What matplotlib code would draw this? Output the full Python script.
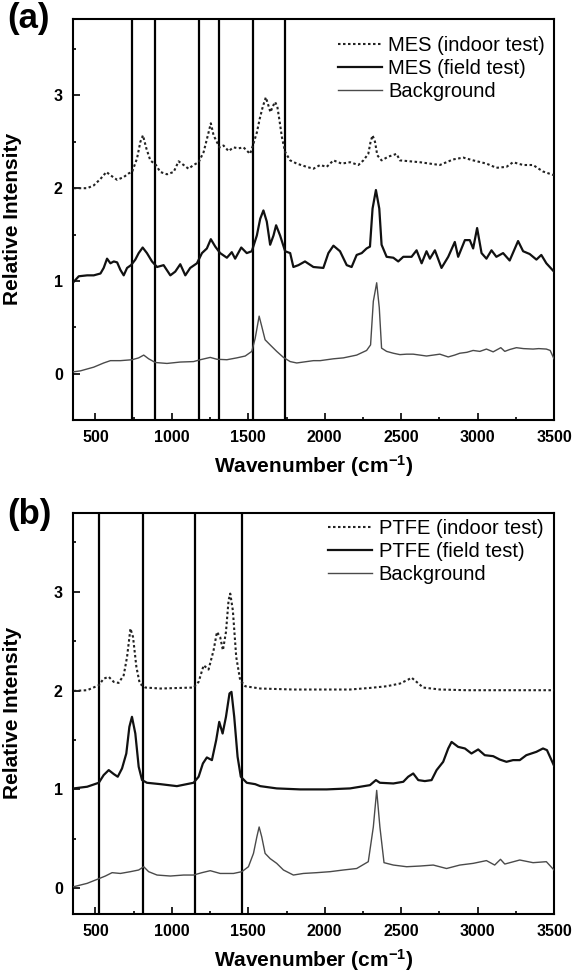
import matplotlib
matplotlib.use("Agg")
import matplotlib.pyplot as plt
from matplotlib.ticker import MultipleLocator

plt.rcParams['font.family'] = ['Liberation Sans', 'DejaVu Sans']
plt.rcParams['mathtext.fontset'] = 'custom'
plt.rcParams['mathtext.rm'] = 'Liberation Sans:bold'
plt.rcParams['mathtext.bf'] = 'Liberation Sans:bold'
plt.rcParams['mathtext.it'] = 'Liberation Sans:bold'
plt.rcParams['mathtext.default'] = 'bf'

# ---------------- panel (a) data ----------------
a_bg_x = [358, 402, 489, 554, 598, 663, 740, 783, 816, 848, 892, 968, 1055, 1142, 1186, 1251,
          1295, 1360, 1425, 1480, 1523, 1545, 1571, 1588, 1610, 1643, 1686, 1730, 1774, 1817,
          1882, 1926, 1970, 2013, 2057, 2122, 2209, 2274, 2300, 2318, 2340, 2357, 2372, 2405,
          2449, 2492, 2536, 2579, 2623, 2666, 2710, 2753, 2808, 2850, 2884, 2930, 2971, 3015,
          3058, 3102, 3152, 3178, 3210, 3254, 3300, 3363, 3400, 3450, 3475, 3500]
a_bg_y = [0.02, 0.03, 0.07, 0.115, 0.14, 0.14, 0.15, 0.17, 0.20, 0.16, 0.12, 0.11, 0.125, 0.13, 0.15, 0.175,
          0.155, 0.15, 0.17, 0.19, 0.24, 0.38, 0.62, 0.51, 0.365, 0.31, 0.24, 0.175, 0.13, 0.115,
          0.13, 0.14, 0.14, 0.15, 0.16, 0.17, 0.20, 0.25, 0.31, 0.78, 0.98, 0.71, 0.275, 0.24,
          0.22, 0.205, 0.21, 0.21, 0.20, 0.19, 0.20, 0.21, 0.18, 0.20, 0.22, 0.23, 0.25, 0.24,
          0.265, 0.235, 0.28, 0.24, 0.26, 0.28, 0.27, 0.265, 0.27, 0.265, 0.25, 0.16]

a_field_x = [358, 391, 446, 489, 533, 554, 576, 598, 620, 642, 663, 685, 707, 733, 761, 783, 809,
             837, 870, 903, 946, 990, 1022, 1055, 1088, 1120, 1164, 1197, 1229, 1255, 1284, 1316,
             1360, 1392, 1414, 1454, 1490, 1523, 1556, 1578, 1599, 1621, 1643, 1665, 1682, 1708,
             1741, 1774, 1795, 1828, 1871, 1926, 1991, 2024, 2057, 2100, 2144, 2176, 2209, 2242,
             2274, 2296, 2313, 2335, 2357, 2372, 2405, 2449, 2481, 2514, 2568, 2601, 2634, 2666,
             2688, 2721, 2764, 2808, 2851, 2873, 2917, 2949, 2971, 2997, 3026, 3058, 3091, 3123,
             3167, 3210, 3265, 3298, 3341, 3385, 3417, 3450, 3500]
a_field_y = [0.99, 1.05, 1.06, 1.06, 1.08, 1.14, 1.24, 1.19, 1.21, 1.20, 1.12, 1.06, 1.14, 1.17, 1.23, 1.30, 1.36,
             1.30, 1.21, 1.15, 1.17, 1.06, 1.10, 1.18, 1.06, 1.14, 1.19, 1.30, 1.35, 1.45, 1.37, 1.30,
             1.25, 1.31, 1.24, 1.36, 1.30, 1.32, 1.49, 1.67, 1.76, 1.64, 1.39, 1.49, 1.60, 1.49,
             1.32, 1.30, 1.15, 1.17, 1.21, 1.15, 1.14, 1.30, 1.38, 1.32, 1.17, 1.15, 1.28, 1.30,
             1.35, 1.37, 1.78, 1.98, 1.78, 1.39, 1.26, 1.25, 1.21, 1.26, 1.26, 1.33, 1.19, 1.32,
             1.24, 1.33, 1.14, 1.26, 1.42, 1.26, 1.44, 1.44, 1.35, 1.57, 1.30, 1.24, 1.33, 1.26,
             1.30, 1.22, 1.43, 1.32, 1.29, 1.23, 1.28, 1.19, 1.10]

a_indoor_x = [358, 446, 489, 533, 572, 598, 642, 685, 718, 740, 772, 794, 811, 833, 859, 896, 924,
              968, 1012, 1044, 1077, 1109, 1142, 1175, 1208, 1240, 1255, 1273, 1312, 1338, 1371,
              1403, 1436, 1469, 1512, 1530, 1556, 1575, 1595, 1615, 1630, 1645, 1660, 1675, 1690,
              1705, 1720, 1741, 1774, 1817, 1882, 1926, 1970, 2013, 2057, 2111, 2166, 2220, 2253,
              2285, 2300, 2313, 2329, 2344, 2372, 2416, 2470, 2492, 2557, 2623, 2688, 2753, 2840,
              2906, 2971, 3058, 3123, 3189, 3232, 3298, 3363, 3428, 3500]
a_indoor_y = [2.00, 2.00, 2.03, 2.10, 2.175, 2.14, 2.09, 2.12, 2.16, 2.175, 2.32, 2.50, 2.57, 2.43, 2.30, 2.25, 2.175,
              2.15, 2.175, 2.29, 2.25, 2.21, 2.25, 2.28, 2.39, 2.60, 2.70, 2.57, 2.44, 2.46, 2.40,
              2.44, 2.43, 2.44, 2.37, 2.46, 2.60, 2.75, 2.88, 2.98, 2.90, 2.82, 2.88, 2.93, 2.88,
              2.72, 2.55, 2.39, 2.30, 2.265, 2.23, 2.21, 2.25, 2.23, 2.30, 2.265, 2.28, 2.25, 2.30,
              2.37, 2.50, 2.57, 2.50, 2.355, 2.30, 2.34, 2.37, 2.30, 2.29, 2.28, 2.265, 2.25, 2.31,
              2.33, 2.30, 2.265, 2.22, 2.23, 2.28, 2.25, 2.25, 2.18, 2.14]

a_vlines = [740, 888, 1175, 1310, 1533, 1740]

# ---------------- panel (b) data ----------------
b_bg_x = [358, 446, 511, 565, 609, 663, 729, 783, 816, 848, 903, 990, 1077, 1142, 1197, 1251,
          1316, 1403, 1458, 1501, 1534, 1556, 1571, 1588, 1610, 1643, 1686, 1730, 1795, 1860,
          1948, 2035, 2122, 2209, 2285, 2318, 2340, 2361, 2388, 2449, 2536, 2623, 2710, 2797,
          2884, 2971, 3058, 3112, 3150, 3178, 3276, 3363, 3450, 3500]
b_bg_y = [0.016, 0.05, 0.09, 0.124, 0.158, 0.15, 0.168, 0.185, 0.218, 0.168, 0.134, 0.124, 0.134, 0.134, 0.158, 0.178,
          0.15, 0.15, 0.168, 0.218, 0.353, 0.52, 0.62, 0.52, 0.353, 0.30, 0.252, 0.185, 0.134, 0.15,
          0.158, 0.168, 0.185, 0.20, 0.269, 0.62, 0.99, 0.62, 0.259, 0.235, 0.218, 0.225, 0.235, 0.20,
          0.235, 0.252, 0.28, 0.235, 0.293, 0.245, 0.286, 0.259, 0.269, 0.185]

b_field_x = [358, 446, 522, 554, 587, 620, 646, 674, 702, 722, 739, 761, 783, 805, 837, 925, 1033,
             1142, 1175, 1203, 1229, 1262, 1290, 1310, 1332, 1354, 1377, 1390, 1408, 1430, 1451,
             1490, 1545, 1578, 1686, 1839, 2013, 2166, 2296, 2335, 2361, 2449, 2514, 2546, 2579,
             2612, 2655, 2699, 2732, 2775, 2808, 2830, 2873, 2917, 2960, 3004, 3047, 3102, 3145,
             3189, 3232, 3276, 3319, 3385, 3428, 3454, 3500]
b_field_y = [1.01, 1.027, 1.067, 1.145, 1.195, 1.155, 1.128, 1.212, 1.363, 1.632, 1.734, 1.565, 1.229, 1.094, 1.067, 1.053, 1.033,
             1.067, 1.128, 1.262, 1.323, 1.296, 1.498, 1.683, 1.565, 1.734, 1.97, 1.986, 1.734, 1.33, 1.128,
             1.067, 1.053, 1.033, 1.01, 1.0, 1.0, 1.01, 1.043, 1.094, 1.067, 1.06, 1.077, 1.128, 1.161,
             1.094, 1.084, 1.094, 1.195, 1.279, 1.414, 1.48, 1.43, 1.414, 1.363, 1.404, 1.346, 1.336, 1.302,
             1.279, 1.296, 1.296, 1.346, 1.38, 1.414, 1.397, 1.24]

b_indoor_x = [358, 446, 522, 554, 587, 620, 652, 685, 707, 729, 746, 768, 790, 826, 925, 1142,
              1175, 1208, 1240, 1273, 1295, 1316, 1334, 1354, 1371, 1382, 1399, 1421, 1447, 1480,
              1578, 1795, 2013, 2166, 2296, 2405, 2492, 2546, 2568, 2601, 2644, 2753, 2927, 3145, 3500]
b_indoor_y = [1.996, 2.003, 2.053, 2.12, 2.138, 2.087, 2.077, 2.154, 2.34, 2.626, 2.541, 2.238, 2.07, 2.03, 2.02, 2.03,
              2.087, 2.255, 2.212, 2.407, 2.592, 2.541, 2.407, 2.592, 2.912, 2.98, 2.81, 2.34, 2.104, 2.043,
              2.02, 2.01, 2.01, 2.01, 2.026, 2.043, 2.07, 2.11, 2.13, 2.087, 2.03, 2.01, 2.003, 2.003, 2.003]

b_vlines = [522, 812, 1152, 1462]

labels_a = ['MES (indoor test)', 'MES (field test)', 'Background']
labels_b = ['PTFE (indoor test)', 'PTFE (field test)', 'Background']

# ---------------- figure ----------------
W, H = 584, 977
fig = plt.figure(figsize=(W / 100, H / 100), dpi=100)

def px_axes(left, top, right, bottom):
    return [left / W, 1 - bottom / H, (right - left) / W, (bottom - top) / H]

ax_a = fig.add_axes(px_axes(72.5, 18.5, 554, 420))
ax_b = fig.add_axes(px_axes(72.5, 512.5, 554, 914))

dot_style = (0, (1.2, 1.2))

def style_axes(ax, ylim, vlines, series, labels, leg_anchor):
    indoor_x, indoor_y, field_x, field_y, bg_x, bg_y = series
    for v in vlines:
        ax.axvline(v, color='black', lw=1.6, zorder=1)
    l1, = ax.plot(indoor_x, indoor_y, color='#222222', lw=1.5, linestyle=dot_style, zorder=3)
    l2, = ax.plot(field_x, field_y, color='#111111', lw=1.6, zorder=3)
    l3, = ax.plot(bg_x, bg_y, color='#4a4a4a', lw=1.0, zorder=3)
    ax.set_xlim(350, 3500)
    ax.set_ylim(*ylim)
    ax.xaxis.set_major_locator(MultipleLocator(500))
    ax.xaxis.set_minor_locator(MultipleLocator(250))
    ax.yaxis.set_major_locator(MultipleLocator(1))
    ax.yaxis.set_minor_locator(MultipleLocator(0.5))
    ax.tick_params(which='major', direction='in', length=5, width=1.2, pad=7,
                   labelsize=11.5, top=False, right=False)
    ax.tick_params(which='minor', direction='in', length=2.5, width=1.2, top=False, right=False)
    for lab in ax.get_xticklabels() + ax.get_yticklabels():
        lab.set_fontweight('bold')
    for sp in ax.spines.values():
        sp.set_linewidth(1.5)
    ax.set_xlabel(r'Wavenumber (cm$^{-1}$)', fontsize=15, fontweight='bold', labelpad=6)
    ax.set_ylabel('Relative Intensity', fontsize=15, fontweight='bold')
    ax.yaxis.set_label_coords(-0.105, 0.5)
    ax.legend([l1, l2, l3], labels, loc='upper left', bbox_to_anchor=leg_anchor,
              frameon=False, fontsize=14.5, handlelength=2.2, handletextpad=0.3,
              labelspacing=0.2, borderpad=0, borderaxespad=0)

style_axes(ax_a, (-0.5, 3.83), a_vlines,
           (a_indoor_x, a_indoor_y, a_field_x, a_field_y, a_bg_x, a_bg_y),
           labels_a, (0.551, 0.956))
style_axes(ax_b, (-0.26, 3.8), b_vlines,
           (b_indoor_x, b_indoor_y, b_field_x, b_field_y, b_bg_x, b_bg_y),
           labels_b, (0.531, 0.983))

fig.text(7 / W, 1 - 2 / H, '(a)', fontsize=25, fontweight='bold', va='top', ha='left')
fig.text(7 / W, 1 - 498 / H, '(b)', fontsize=25, fontweight='bold', va='top', ha='left')

fig.savefig('out.png', dpi=100)
